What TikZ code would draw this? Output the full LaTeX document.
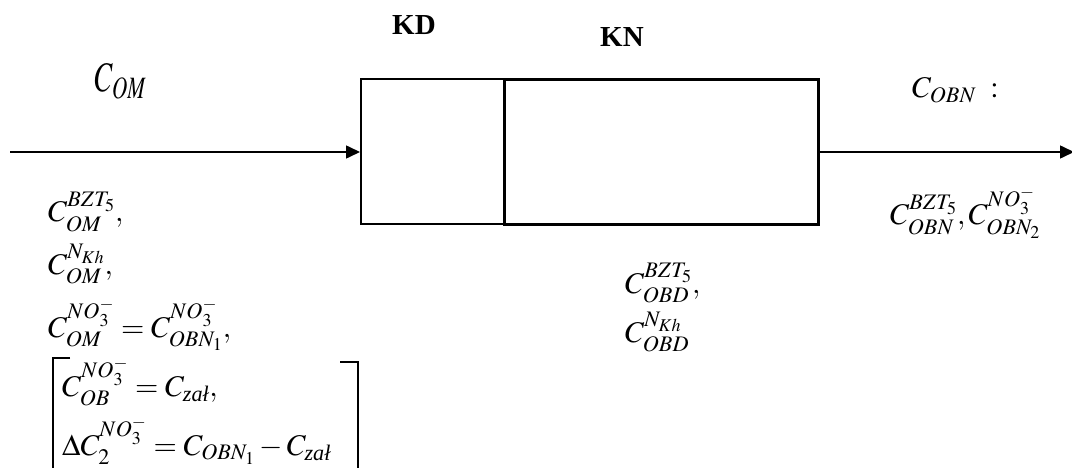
\documentclass[tikz,border=0pt]{standalone}
\usepackage{amsmath}
\usepackage{mathptmx}
\usepackage[no-math]{fontspec}
\setmainfont{Liberation Serif}
\usetikzlibrary{arrows.meta}
\newcommand{\zal}{\text{\itshape zał}}
\tikzset{
  lbl/.style={anchor=base west, inner sep=0pt, font=\fontsize{30}{36}\selectfont},
  ttl/.style={anchor=base west, inner sep=0pt, font=\fontsize{29}{34}\selectfont\bfseries},
  flow/.style={line width=1.6pt, -{Triangle[length=14pt,width=13pt]}},
  boxa/.style={draw, line width=1.8pt},
  boxb/.style={draw, line width=2.6pt},
}
\begin{document}
\begin{tikzpicture}[x=1pt,y=-1pt]
\useasboundingbox (0,0) rectangle (1072,468);
% boxes
\node[boxa, minimum width=143pt, minimum height=145pt, inner sep=0pt, anchor=north west] (kd) at (360,78) {};
\node[boxb, minimum width=314pt, minimum height=145pt, inner sep=0pt, anchor=north west] (kn) at (503,78) {};
% flows
\coordinate (in) at (10,152);
\coordinate (out) at (1074,152);
\draw[flow] (in) -- (kd.west |- in);
\draw[flow] (kn.east |- out) -- (out);
% titles
\node[ttl] (tkd) at (392,35) {KD};
\node[ttl] (tkn) at (600,47) {KN};
% top labels
\node[anchor=base west, inner sep=0pt, font=\fontsize{42}{46}\selectfont] (com) at (95,92) {\scalebox{0.68}[1]{$C_{OM}$}};
\node[lbl] (cobn) at (912,98) {$C_{OBN}\ :$};
% left list
\node[lbl] (l1) at (48,222) {$C_{OM}^{BZT_5},$};
\node[lbl] (l2) at (48,274) {$C_{OM}^{N_{Kh}},$};
\node[lbl] (l3) at (48,337) {$C_{OM}^{NO_3^-}=C_{OBN_1}^{NO_3^-},$};
\node[lbl] (l4) at (62,396) {$C_{OB}^{NO_3^-}=C_{\zal},$};
\node[lbl] (l5) at (62,455) {$\Delta C_2^{NO_3^-}=C_{OBN_1}-C_{\zal}$};
% bracket
\draw[line width=1.3pt] (70,358) -- (53,358) -- (53,472);
\draw[line width=1.3pt] (340,362) -- (358,362) -- (358,472);
% middle
\node[lbl] (m1) at (625,293) {$C_{OBD}^{BZT_5},$};
\node[lbl] (m2) at (625,342) {$C_{OBD}^{N_{Kh}}$};
% right
\node[lbl] (r1) at (890,225) {$C_{OBN}^{BZT_5},C_{OBN_2}^{NO_3^-}$};
\end{tikzpicture}
\end{document}
